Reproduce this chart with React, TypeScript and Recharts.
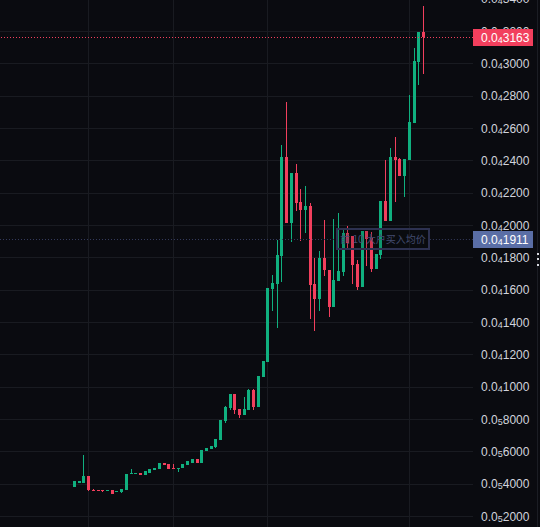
import { ComposedChart, Bar, XAxis, YAxis, CartesianGrid, ReferenceLine } from 'recharts'

const UP = '#10b07f'
const DOWN = '#f23f5d'
const BG = '#0a0b10'
const GRID = '#191b21'

// prices in units of 0.000001
const opens = [3.80,4.10,4.10,4.48,3.67,3.67,3.67,3.55,3.61,3.49,3.49,3.67,4.60,4.60,4.66,4.54,4.72,4.85,4.91,5.28,5.22,4.97,4.91,4.97,5.16,5.34,5.53,5.34,6.03,6.15,6.27,6.71,7.88,8.69,9.56,8.63,8.26,8.57,9.81,8.75,10.61,11.54,16.06,16.37,18.11,24.24,20.15,23.25,21.45,20.96,21.21,16.37,15.44,17.99,17.24,14.95,16.56,17.12,19.53,19.35,17.61,16.19,19.66,19.22,17.30,18.17,21.52,20.28,24.24,24.12,23.07,24.06,26.35,30.13,31.99]
const highs = [4.17,4.17,5.78,4.48,3.73,3.67,3.67,3.61,3.61,3.55,3.73,4.60,4.91,4.66,4.66,4.79,4.91,4.97,5.28,5.28,5.22,5.22,5.03,5.22,5.41,5.53,5.53,6.09,6.21,6.34,6.77,7.95,8.81,9.56,9.56,8.63,9.37,9.87,9.87,10.67,11.60,16.13,16.93,19.10,24.99,27.65,23.25,23.81,22.26,22.44,21.39,17.99,18.42,20.34,17.24,20.40,20.77,19.84,19.97,19.35,17.86,19.66,19.66,19.60,18.23,21.52,24.06,24.80,25.48,24.18,24.12,28.08,31.00,31.99,33.60]
const lows = [3.80,4.10,4.10,3.55,3.61,3.61,3.55,3.55,3.42,3.49,3.49,3.67,4.60,4.60,4.54,4.54,4.72,4.85,4.91,5.16,4.91,4.91,4.79,4.97,5.16,5.34,5.34,5.34,6.03,6.15,6.21,6.71,7.76,8.57,8.32,8.07,8.26,8.57,8.57,8.75,10.61,11.54,14.70,13.65,16.50,20.15,18.98,20.90,19.04,19.53,14.21,13.46,14.70,16.87,14.33,14.95,16.56,16.87,18.48,16.37,16.00,16.19,17.49,17.12,17.30,17.92,20.28,20.28,21.45,23.07,21.76,24.06,26.35,28.70,29.39]
const closes = [4.17,4.17,4.48,3.61,3.61,3.61,3.55,3.61,3.42,3.55,3.73,4.60,4.66,4.66,4.54,4.79,4.91,4.97,5.28,5.16,4.91,4.91,5.03,5.22,5.41,5.53,5.34,6.09,6.21,6.34,6.77,7.95,8.75,9.56,8.57,8.26,8.63,9.81,8.75,10.67,11.60,16.13,16.44,18.17,24.24,20.15,23.25,21.39,20.96,21.21,16.31,15.44,17.99,17.24,14.95,16.62,17.18,19.53,18.91,17.55,16.19,19.66,19.16,17.30,18.23,21.52,20.28,24.24,24.06,23.07,24.12,26.41,30.19,31.99,31.63]

const priceTicks = [2,4,6,8,10,12,14,16,18,20,22,24,26,28,30,32,34]
const timeGrid = [3,21,41,71]
const lastPrice = 31.63
const avgPrice = 19.11
const avgLabel = '前 10 大户买入均价'

const data = opens.map((o, i) => ({ i, open: o, high: highs[i], low: lows[i], close: closes[i] }))

const Candle = ({ x, y, width, height, payload }: any) => {
  const top = Math.min(y, y + height)
  const k = Math.abs(height) / (payload.high - payload.low)
  const color = payload.close >= payload.open ? UP : DOWN
  const bx = Math.round(x + width / 2 - 1.5)
  const bt = Math.round(top + (payload.high - Math.max(payload.open, payload.close)) * k)
  const bb = Math.round(top + (payload.high - Math.min(payload.open, payload.close)) * k)
  return (
    <g>
      <rect x={bx + 1} y={Math.round(top)} width={1} height={Math.max(1, Math.round(Math.abs(height)))} fill={color} />
      <rect x={bx} y={bt} width={3} height={Math.max(1, bb - bt)} fill={color} />
    </g>
  )
}

const Price = ({ x, y, v, fill }: any) => {
  const sub = v >= 10 ? '4' : '5'
  const digits = String(Math.round(v >= 10 ? v * 100 : v * 1000))
  return (
    <text x={x} y={y} fill={fill} fontSize={12} fontFamily="'Liberation Sans', Arial, sans-serif">
      0.0<tspan fontSize={9} dy={1}>{sub}</tspan><tspan dy={-1}>{digits}</tspan>
    </text>
  )
}

const Tick = ({ y, payload }: any) => <Price x={481} y={y + 4} v={payload.value} fill="#d1d4dc" />

// snap 1px lines onto a pixel row or column
const snap = (n: number) => Math.floor(n) + 0.5
const HLine = ({ x1, x2, y1 }: any) => <line x1={x1} x2={x2} y1={snap(y1)} y2={snap(y1)} stroke={GRID} />
const VLine = ({ x1, y1, y2 }: any) => <line x1={snap(x1)} x2={snap(x1)} y1={y1} y2={y2} stroke={GRID} />
const Dotted = ({ x1, x2, y1, stroke }: any) => (
  <line x1={x1} x2={x2} y1={snap(y1)} y2={snap(y1)} stroke={stroke} strokeDasharray="1 2" />
)

const Tag = ({ viewBox, v, color }: any) => {
  const cy = Math.floor(viewBox.y)
  return (
    <g>
      <rect x={473} y={cy - 8} width={60} height={17} fill={color} />
      <Price x={481} y={cy + 5} v={v} fill="#ffffff" />
    </g>
  )
}

const AvgTag = (props: any) => {
  const cy = Math.floor(props.viewBox.y)
  return (
    <g>
      <Tag {...props} />
      <rect x={337} y={cy - 10} width={92} height={20} fill={BG} fillOpacity={0.15} stroke="#2d3150" strokeWidth={2} />
      <text x={383} y={cy + 4} textAnchor="middle" fill="#434b70" fontSize={10} fontFamily="'Noto Sans CJK SC', sans-serif">{avgLabel}</text>
    </g>
  )
}

export default function App() {
  return (
    <div style={{ position: 'fixed', left: 0, top: 0, width: 540, height: 527, overflow: 'hidden', background: BG }}>
      <div style={{ marginTop: -4 }}>
        <ComposedChart width={540} height={531} data={data} margin={{ top: 0, right: 0, bottom: 0, left: 0 }}>
          <CartesianGrid stroke={GRID} verticalValues={timeGrid} horizontalValues={priceTicks}
            horizontal={(p: any) => <HLine key={p.key} {...p} />} vertical={(p: any) => <VLine key={p.key} {...p} />} />
          <XAxis dataKey="i" type="number" domain={[-15.755, 84.54]} allowDataOverflow hide />
          <YAxis orientation="right" width={67} domain={[1.3505, 34.197]} allowDataOverflow ticks={priceTicks} interval={0}
            axisLine={false} tickLine={false} tick={<Tick />} />
          <Bar dataKey={(d: any) => [d.low, d.high]} barSize={3} shape={<Candle />} isAnimationActive={false} />
          <ReferenceLine zIndex={2000} segment={[{ x: -15.755, y: avgPrice }, { x: 55.5, y: avgPrice }]} stroke="#343a5c" shape={<Dotted />} />
          <ReferenceLine zIndex={2000} segment={[{ x: 75.4, y: avgPrice }, { x: 84.54, y: avgPrice }]} stroke="#343a5c" shape={<Dotted />} />
          <ReferenceLine y={avgPrice} zIndex={2000} stroke="none" label={<AvgTag v={avgPrice} color="#5a6ea6" />} />
          <ReferenceLine y={lastPrice} zIndex={2000} stroke={DOWN} shape={<Dotted />} label={<Tag v={lastPrice} color={DOWN} />} />
        </ComposedChart>
      </div>
      <div style={{ position: 'absolute', left: 537, top: 0, width: 1, height: 527, background: '#1b1d24' }} />
      {[253, 258, 264].map((t) => (
        <div key={t} style={{ position: 'absolute', left: 537, top: t, width: 2, height: 2, background: '#d6d8de' }} />
      ))}
    </div>
  )
}
